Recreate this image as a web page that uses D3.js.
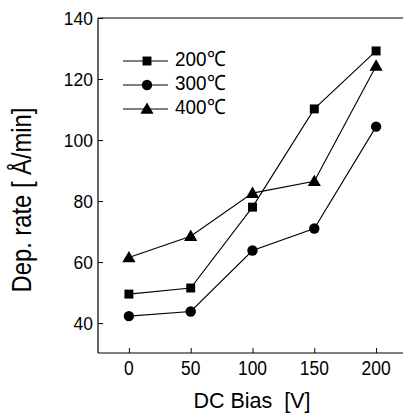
<!DOCTYPE html>
<html><head><meta charset="utf-8">
<script src="https://cdn.jsdelivr.net/npm/d3@7"></script>
<style>body{margin:0;background:#fff}svg{display:block}text{font-family:"Liberation Sans",Arial,sans-serif;fill:#000}</style>
</head><body>
<svg id="c" width="403" height="417"></svg>
<script>
const bias = [0, 50, 100, 150, 200];
const s200 = [49.5, 51.5, 78, 110.2, 129.2];
const s300 = [42.3, 43.8, 63.8, 71, 104.4];
const s400 = [61.5, 68.5, 82.6, 86.5, 124.3];
const seriesNames = ["200℃", "300℃", "400℃"];
const xTicks = [0, 50, 100, 150, 200];
const yTicks = [40, 60, 80, 100, 120, 140];

const svg = d3.select("#c");
const L = 98, R = 407, T = 18, B = 353;
const x = d3.scaleLinear().domain([-25, 225]).range([L, R]);
const y = d3.scaleLinear().domain([30.2, 140]).range([B, T]);

// frame: left, top, bottom (right side lies beyond the image)
[[L, T, L, B], [L, T, 403, T], [L, B, 403, B]].forEach(c => {
  svg.append("line").attr("x1", c[0]).attr("y1", c[1]).attr("x2", c[2]).attr("y2", c[3])
    .attr("stroke", "#000").attr("stroke-width", 1.2);
});

// x axis ticks (inward)
const gx = svg.append("g").attr("transform", `translate(0,${B})`);
gx.call(d3.axisBottom(x).tickValues(d3.range(-25, 201, 25)).tickSize(-3).tickFormat(""))
  .call(g => g.select(".domain").remove());
gx.call(d3.axisBottom(x).tickValues(xTicks).tickSize(-5).tickFormat(""))
  .call(g => g.selectAll(".domain").remove());

// y axis ticks (inward)
const gy = svg.append("g").attr("transform", `translate(${L},0)`);
gy.call(d3.axisLeft(y).tickValues(d3.range(40, 141, 10)).tickSize(-3).tickFormat(""))
  .call(g => g.select(".domain").remove());
gy.call(d3.axisLeft(y).tickValues(yTicks).tickSize(-5).tickFormat(""))
  .call(g => g.selectAll(".domain").remove());
svg.selectAll(".tick line").attr("stroke-width", 1);

// tick labels (condensed)
svg.selectAll(null).data(xTicks).enter().append("text")
  .attr("transform", d => `translate(${x(d)},${B + 22}) scale(0.87,1)`)
  .attr("text-anchor", "middle").attr("font-size", 20).text(d => d);
svg.selectAll(null).data(yTicks).enter().append("text")
  .attr("transform", d => `translate(${L - 5},${y(d)}) scale(0.92,1)`)
  .attr("text-anchor", "end").attr("dy", "0.36em").attr("font-size", 19).text(d => d);

// titles
svg.append("text").attr("x", 252).attr("y", 408).attr("text-anchor", "middle")
  .attr("font-size", 21.5).attr("xml:space", "preserve").text("DC Bias  [V]");
svg.append("text").attr("transform", "translate(31,200) rotate(-90) scale(0.88,1)").attr("text-anchor", "middle")
  .attr("font-size", 27).attr("xml:space", "preserve").text("Dep. rate [ Å/min]");

const data = [s200, s300, s400];
const line = d3.line().x((d, i) => x(bias[i])).y(d => y(d));
const sym = [d3.symbolSquare, d3.symbolCircle, d3.symbolTriangle];
const symSize = [80, 85, 75];

data.forEach((s, k) => {
  svg.append("path").datum(s).attr("d", line).attr("fill", "none").attr("stroke", "#000").attr("stroke-width", 1.1);
  svg.selectAll(null).data(s).enter().append("path")
    .attr("transform", (d, i) => `translate(${x(bias[i])},${y(d) + (k === 2 ? 1 : 0)})`)
    .attr("d", d3.symbol().type(sym[k]).size(symSize[k])).attr("fill", "#000");
});

// legend
const ly = [61, 85, 109];
seriesNames.forEach((n, k) => {
  svg.append("line").attr("x1", 123).attr("x2", 168).attr("y1", ly[k]).attr("y2", ly[k]).attr("stroke", "#000").attr("stroke-width", 1.1);
  svg.append("path").attr("transform", `translate(147,${ly[k] + (k === 2 ? 1 : 0)})`)
    .attr("d", d3.symbol().type(sym[k]).size(symSize[k])).attr("fill", "#000");
  svg.append("text").attr("transform", `translate(175,${ly[k] + 5}) scale(0.9,1)`).attr("font-size", 21)
    .text(n);
});
</script>
</body></html>
